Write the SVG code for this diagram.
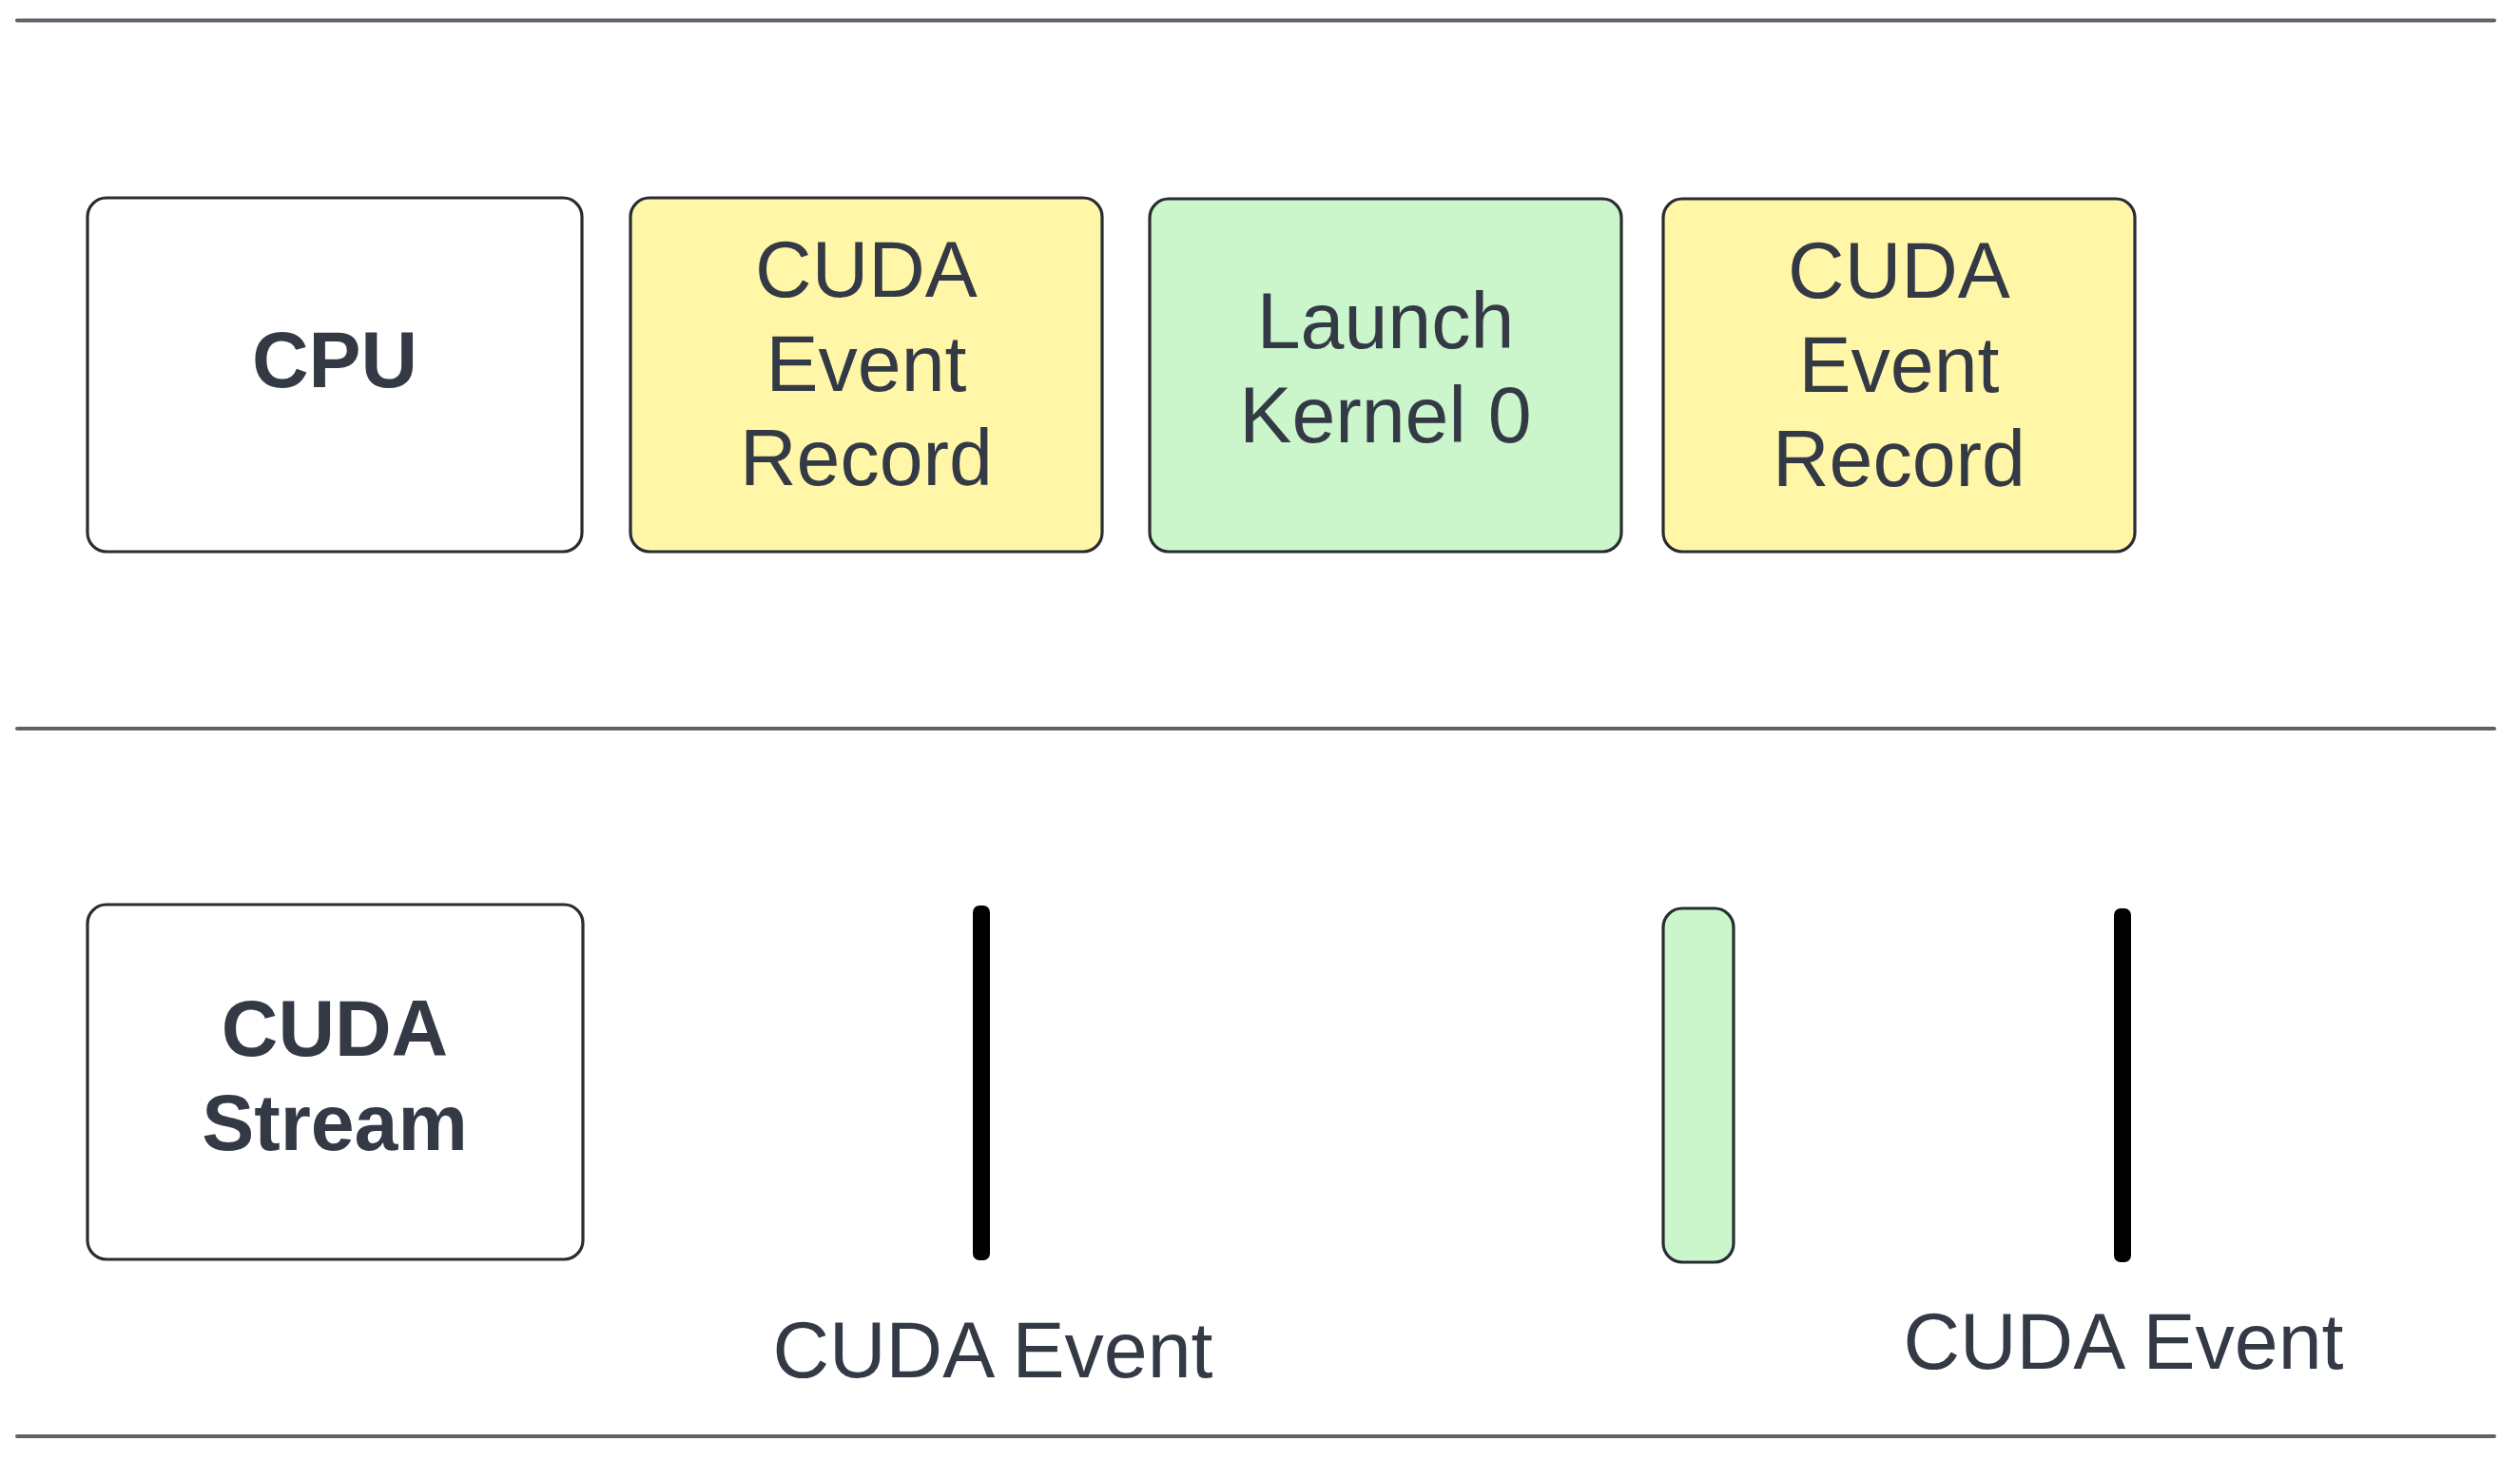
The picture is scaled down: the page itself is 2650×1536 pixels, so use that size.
<svg xmlns="http://www.w3.org/2000/svg" width="2650" height="1536" viewBox="0 0 2650 1536">
<style>
.box{stroke:#282c33;stroke-width:3.2}
.plain{fill:#ffffff}
.yellow{fill:#fff6a8}
.green{fill:#cbf5cb}
.t{font-family:"Liberation Sans",Arial,sans-serif;font-size:82.5px;fill:#343a45;text-anchor:middle}
.b{font-weight:bold}
.sep{stroke:#5f6268;stroke-width:4;stroke-linecap:round}
.ev{fill:#000000}
</style>
<rect width="2650" height="1536" fill="#ffffff"/>
<g id="lanes">
<line class="sep" x1="18" y1="21.5" x2="2623" y2="21.5"/>
<line class="sep" x1="18" y1="766" x2="2623" y2="766"/>
<line class="sep" x1="18" y1="1510" x2="2623" y2="1510"/>
</g>
<g id="cpu">
<rect class="box plain" x="92" y="208" width="520" height="372" rx="20"/>
<text class="t b" x="352" y="407">CPU</text>
</g>
<g id="record1">
<rect class="box yellow" x="663" y="208" width="496" height="372" rx="20"/>
<text class="t" x="911" y="312">CUDA</text>
<text class="t" x="911" y="411">Event</text>
<text class="t" x="911" y="510">Record</text>
</g>
<g id="launch">
<rect class="box green" x="1209" y="209" width="496" height="371" rx="20"/>
<text class="t" x="1457" y="366">Launch</text>
<text class="t" x="1457" y="465">Kernel 0</text>
</g>
<g id="record2">
<rect class="box yellow" x="1749" y="209" width="496" height="371" rx="20"/>
<text class="t" x="1997" y="313">CUDA</text>
<text class="t" x="1997" y="412">Event</text>
<text class="t" x="1997" y="511">Record</text>
</g>
<g id="stream">
<rect class="box plain" x="92" y="951" width="521" height="373" rx="20"/>
<text class="t b" x="352" y="1110">CUDA</text>
<text class="t b" x="352" y="1209">Stream</text>
</g>
<g id="event1">
<rect class="ev" x="1023" y="952" width="18" height="373" rx="7"/>
<text class="t" x="1044" y="1448">CUDA Event</text>
</g>
<g id="kernel0">
<rect class="box green" x="1749" y="955" width="74" height="372" rx="20"/>
</g>
<g id="event2">
<rect class="ev" x="2223" y="955" width="18" height="372" rx="7"/>
<text class="t" x="2233" y="1439">CUDA Event</text>
</g>
<g id="connectors"></g>
</svg>
